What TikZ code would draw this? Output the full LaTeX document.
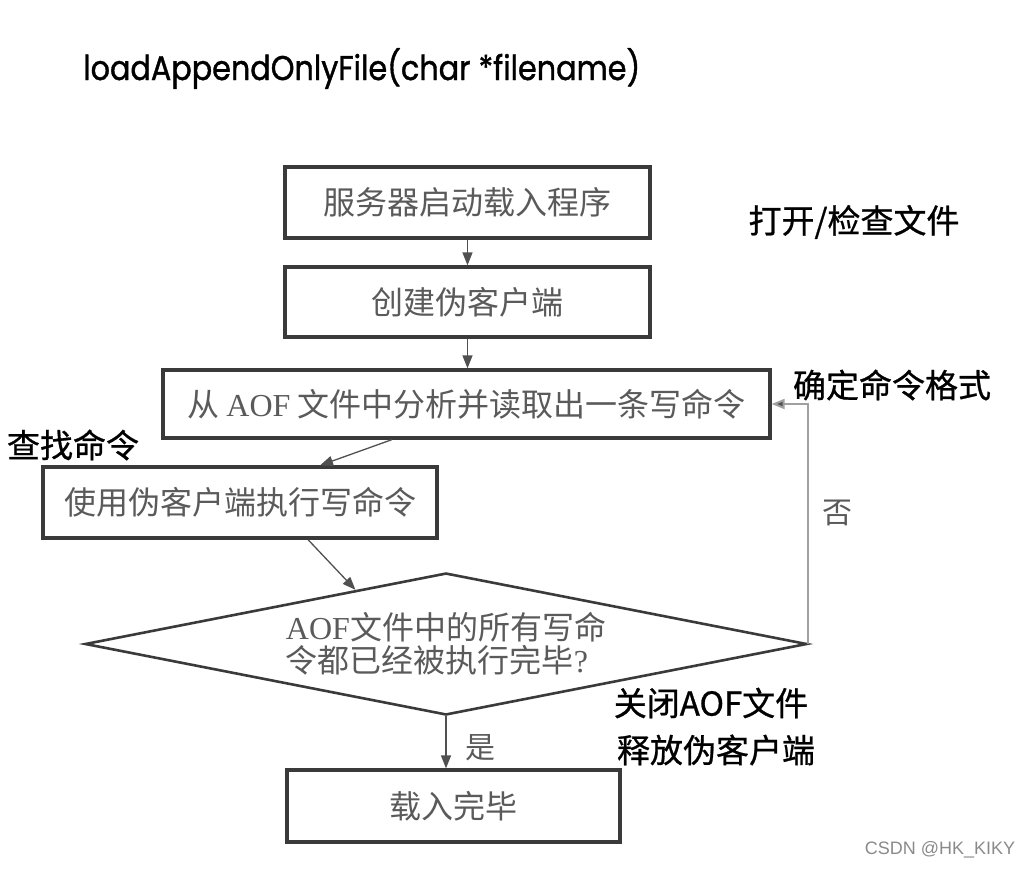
\documentclass[tikz,border=0pt]{standalone}
\usepackage{graphicx}
\usepackage{fontspec}
\setmainfont{Liberation Serif}
\newfontfamily\cjk{Noto Sans CJK SC}
\newfontfamily\cjkb[FakeBold=0.8]{Noto Sans CJK SC}
\newfontfamily\lser{Liberation Serif}
\newfontfamily\hand[FakeBold=1.2]{Poppins}
\newfontfamily\wm{Liberation Sans}
\usetikzlibrary{arrows.meta,shapes.geometric,calc}
\definecolor{boxc}{HTML}{3A3A3A}
\definecolor{txtc}{HTML}{5A5A5A}
\definecolor{arrc}{HTML}{505050}
\definecolor{fbc}{HTML}{A0A0A0}
\definecolor{wmc}{HTML}{8A8A8A}
\tikzset{
  flowbox/.style={draw=boxc, line width=3.2pt, fill=white, inner sep=0pt, text=txtc,
     font=\cjk\fontsize{32}{38}\selectfont},
  arr/.style={draw=arrc, line width=1.3pt, -{Triangle[length=13pt,width=10pt]}},
  fbk/.style={draw=fbc, line width=2pt, -{Triangle[length=13pt,width=10pt,fill=arrc]}},
  lbl/.style={inner sep=0pt, text=black, font=\cjkb\fontsize{33}{38}\selectfont},
  glbl/.style={inner sep=0pt, text=txtc, font=\cjk\fontsize{30}{36}\selectfont},
}
\begin{document}
\begin{tikzpicture}[x=1pt,y=-1pt]
\useasboundingbox (0,0) rectangle (1028,868);
% title
\node[anchor=base west, inner sep=0pt] (title) at (83,80)
  {\resizebox{557pt}{32pt}{\hand loadAppendOnlyFile(char *filename)}};
% boxes
\node[flowbox, minimum width=365pt, minimum height=71pt] (b1) at (467.5,202.5) {服务器启动载入程序};
\node[flowbox, minimum width=365pt, minimum height=70pt] (b2) at (467.5,302) {创建伪客户端};
\node[flowbox, minimum width=607pt, minimum height=68pt] (b3) at (466.5,404) {从 {\lser AOF} 文件中分析并读取出一条写命令};
\node[flowbox, minimum width=394pt, minimum height=71pt] (b4) at (240,502.5) {使用伪客户端执行写命令};
\node[draw=boxc, line width=2.6pt, diamond, aspect=5.08, minimum width=722pt, minimum height=142pt,
      inner sep=0pt, text=txtc, align=left, font=\cjk\fontsize{32}{33}\selectfont] (d) at (446,644)
  {{\lser AOF}文件中的所有写命\\令都已经被执行完毕{\lser ?}};
\node[flowbox, minimum width=333pt, minimum height=72pt] (b5) at (453.5,806) {载入完毕};
% connectors
\draw[arr] (b1.south) -- (b2.north);
\draw[arr] (b2.south) -- (b2.south |- b3.north);
\draw[arr] (392,0 |- b3.south) -- (320,0 |- b4.north);
\coordinate (dtip) at ($(d.west)!0.75!(d.north)$);
\draw[arr] (308,0 |- b4.south) -- (dtip);
\draw[arr] (d.south) -- (d.south |- b5.north);
\draw[fbk] (d.east) |- (b3.east);
% labels
\node[glbl] (yes) at (480,748) {是};
\node[glbl] (no) at (837,513) {否};
\node[lbl] (l1) at (854,222) {打开/检查文件};
\node[lbl] (l2) at (892,385) {确定命令格式};
\node[lbl] (l3) at (73,445) {查找命令};
\node[lbl] (l4) at (711,703) {关闭AOF文件};
\node[lbl] (l5) at (716,750) {释放伪客户端};
\node[inner sep=0pt, text=wmc, font=\wm\fontsize{18}{20}\selectfont] (wm) at (940,850) {CSDN @HK\_KIKY};
\end{tikzpicture}
\end{document}
